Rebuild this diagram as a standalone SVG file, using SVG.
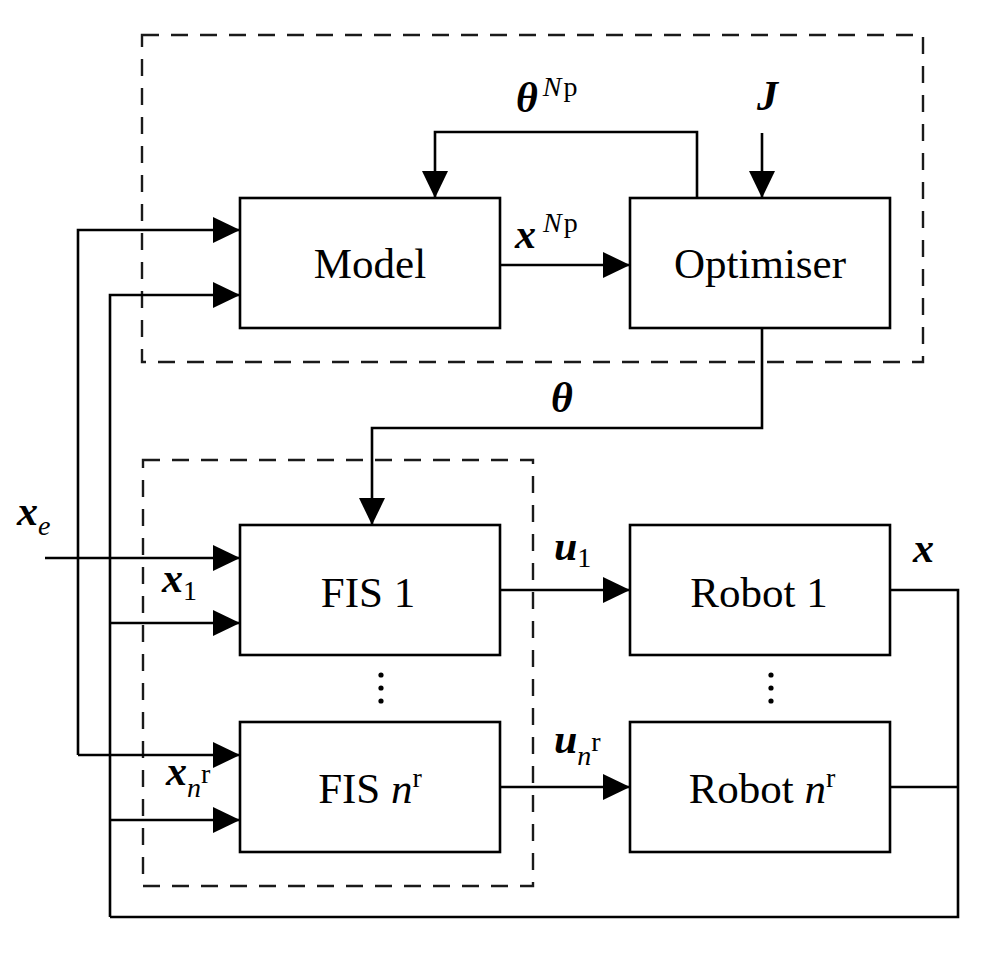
<svg xmlns="http://www.w3.org/2000/svg" width="1008" height="980" viewBox="0 0 1008 980">
<style>
.box{fill:#fff;stroke:#000;stroke-width:2.6}
.dash{fill:none;stroke:#1a1a1a;stroke-width:2.4;stroke-dasharray:17 12}
.ln{fill:none;stroke:#000;stroke-width:2.6}
.t{font-family:"Liberation Serif","Times New Roman",serif;font-size:43px;fill:#000}
.m{font-family:"Liberation Serif","Times New Roman",serif;font-size:42px;font-weight:bold;font-style:italic;fill:#000}
.s{font-family:"Liberation Serif","Times New Roman",serif;font-size:28px;font-weight:normal;font-style:normal}
.si{font-family:"Liberation Serif","Times New Roman",serif;font-size:28px;font-weight:normal;font-style:italic}
</style>
<defs>
<marker id="arr" markerUnits="userSpaceOnUse" markerWidth="28" markerHeight="28" refX="27" refY="13" orient="auto">
<path d="M0,0 L27,13 L0,26 z" fill="#000"/>
</marker>
</defs>
<g id="groups">
<rect class="dash" x="142" y="35" width="781" height="327"/>
<rect class="dash" x="143" y="460" width="390" height="426"/>
</g>
<g id="connectors">
<path class="ln" d="M78,755 V230 H240" marker-end="url(#arr)"/>
<path class="ln" d="M78,755 H240" marker-end="url(#arr)"/>
<path class="ln" d="M110,917 V295 H240" marker-end="url(#arr)"/>
<path class="ln" d="M110,623 H240" marker-end="url(#arr)"/>
<path class="ln" d="M110,820 H240" marker-end="url(#arr)"/>
<path class="ln" d="M110,917 H958 V590 H890"/>
<path class="ln" d="M958,787 H890"/>
<path class="ln" d="M45,558 H240" marker-end="url(#arr)"/>
<path class="ln" d="M500,265 H630" marker-end="url(#arr)"/>
<path class="ln" d="M697,198 V132 H435 V198" marker-end="url(#arr)"/>
<path class="ln" d="M762,133 V198" marker-end="url(#arr)"/>
<path class="ln" d="M762,328 V428 H372 V525" marker-end="url(#arr)"/>
<path class="ln" d="M500,590 H630" marker-end="url(#arr)"/>
<path class="ln" d="M500,787 H630" marker-end="url(#arr)"/>
</g>
<g id="model">
<rect class="box" x="240" y="198" width="260" height="130"/>
<text class="t" x="370" y="278" text-anchor="middle">Model</text>
</g>
<g id="optimiser">
<rect class="box" x="630" y="198" width="260" height="130"/>
<text class="t" x="760" y="278" text-anchor="middle">Optimiser</text>
</g>
<g id="fis1">
<rect class="box" x="240" y="525" width="260" height="130"/>
<text class="t" x="368" y="607" text-anchor="middle">FIS 1</text>
</g>
<g id="fisn">
<rect class="box" x="240" y="722" width="260" height="130"/>
<text class="t" x="370" y="803" text-anchor="middle">FIS <tspan font-style="italic">n</tspan><tspan class="s" dy="-16">r</tspan></text>
</g>
<g id="robot1">
<rect class="box" x="630" y="525" width="260" height="130"/>
<text class="t" x="759" y="607" text-anchor="middle">Robot 1</text>
</g>
<g id="robotn">
<rect class="box" x="630" y="722" width="260" height="130"/>
<text class="t" x="762" y="803" text-anchor="middle">Robot <tspan font-style="italic">n</tspan><tspan class="s" dy="-16">r</tspan></text>
</g>
<g id="labels">
<text class="m" x="516" y="112" font-size="44">θ<tspan class="si" font-size="30" dx="5" dy="-16">N</tspan><tspan class="s" font-size="30" dx="2">p</tspan></text>
<text class="m" x="757" y="110">J</text>
<text class="m" x="515" y="248">x<tspan class="si" font-size="30" dx="7" dy="-16">N</tspan><tspan class="s" font-size="30" dx="2">p</tspan></text>
<text class="m" x="551" y="412" font-size="44">θ</text>
<text class="m" x="17" y="525">x<tspan class="si" dy="10">e</tspan></text>
<text class="m" x="162" y="592">x<tspan class="s" dy="8">1</tspan></text>
<text class="m" x="166" y="785">x<tspan class="si" dy="12">n</tspan><tspan class="s" font-size="20" dy="-14">r</tspan></text>
<text class="m" x="554" y="560">u<tspan class="s" dy="7">1</tspan></text>
<text class="m" x="554" y="753">u<tspan class="si" dy="12">n</tspan><tspan class="s" font-size="20" dy="-14">r</tspan></text>
<text class="m" x="913" y="562">x</text>
</g>
<g id="dots">
<circle cx="381" cy="675" r="2.6"/>
<circle cx="381" cy="688" r="2.6"/>
<circle cx="381" cy="701" r="2.6"/>
<circle cx="771" cy="675" r="2.6"/>
<circle cx="771" cy="688" r="2.6"/>
<circle cx="771" cy="701" r="2.6"/>
</g>
</svg>
